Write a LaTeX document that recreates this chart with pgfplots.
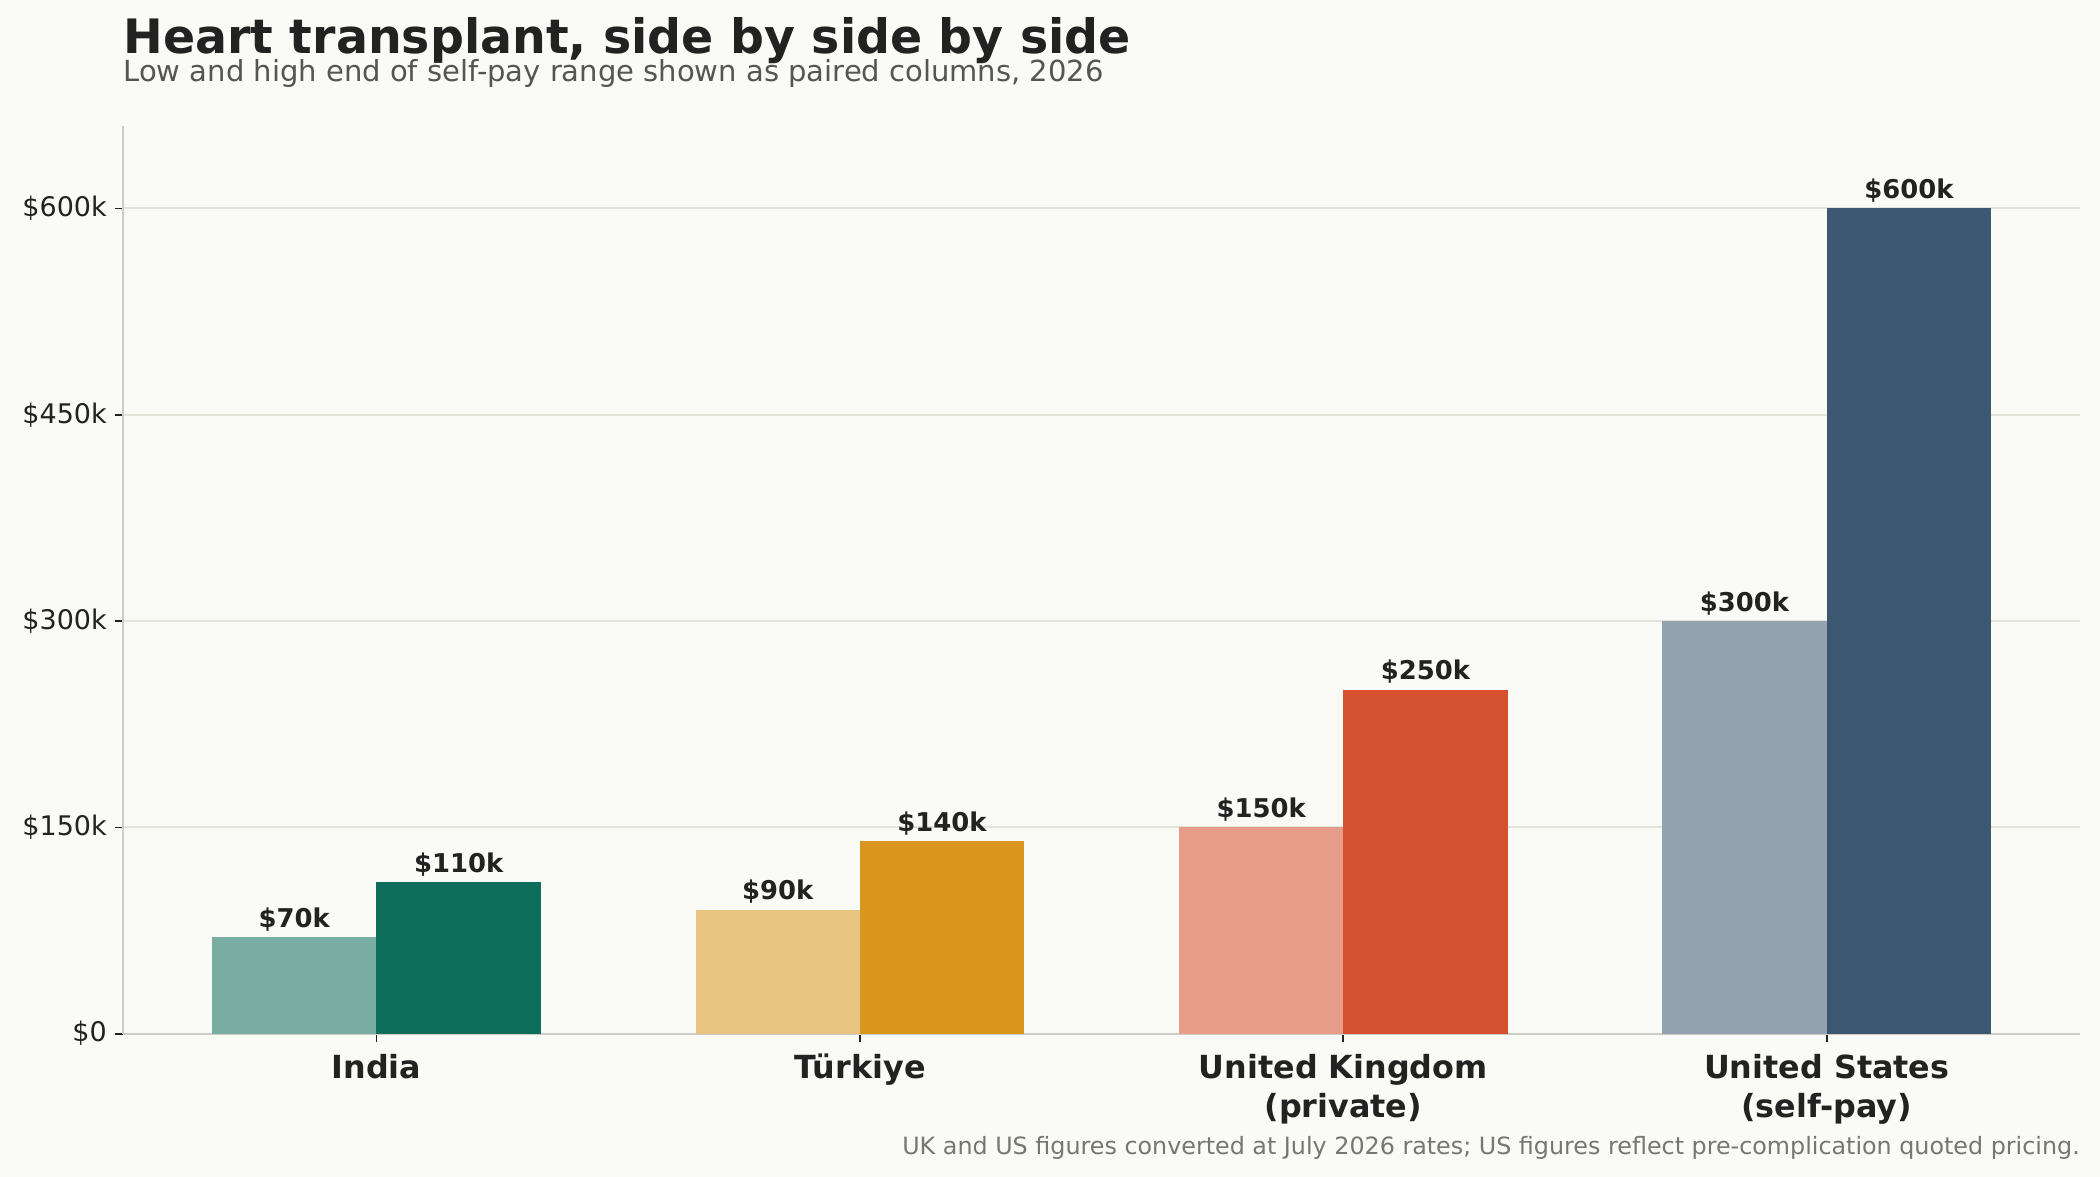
\documentclass[border=0pt]{standalone}
\usepackage{fontspec}
\setmainfont{DejaVu Sans}
\usepackage{pgfplots}
\pgfplotsset{compat=1.18}

\definecolor{bg}{HTML}{FAFAF6}
\definecolor{ink}{HTML}{222222}
\definecolor{subc}{HTML}{555555}
\definecolor{notec}{HTML}{777770}
\definecolor{gridc}{HTML}{E3E3DC}
\definecolor{spine}{HTML}{CCCCC4}
\definecolor{inLo}{HTML}{79ADA3}
\definecolor{inHi}{HTML}{0E6E5C}
\definecolor{trLo}{HTML}{E8C481}
\definecolor{trHi}{HTML}{D9961E}
\definecolor{ukLo}{HTML}{E59D89}
\definecolor{ukHi}{HTML}{D4502E}
\definecolor{usLo}{HTML}{93A2AF}
\definecolor{usHi}{HTML}{3B5870}

\begin{document}
\begin{tikzpicture}
\fill[bg] (-66.2bp,-77bp) rectangle (1062.7bp,555.7bp);

\begin{axis}[
    at={(0,0)}, anchor=south west,
    scale only axis,
    width=1052bp, height=488bp,
    xmin=-0.524, xmax=3.524,
    ymin=0, ymax=660,
    ybar, bar width=0.34,
    /pgf/number format/assume math mode=true,
    xtick={0,1,2,3},
    xticklabels={India, Türkiye, {United Kingdom\\(private)}, {United States\\(self-pay)}},
    xticklabel style={font=\fontsize{17.1bp}{21bp}\selectfont\bfseries, align=center,
        text=ink, yshift=-3bp},
    ytick={0,150,300,450,600},
    yticklabels={\$0,\$150k,\$300k,\$450k,\$600k},
    yticklabel style={font=\fontsize{14.5bp}{16bp}\selectfont, text=ink, xshift=-1bp},
    axis x line=bottom, axis y line=left,
    axis line style={draw=spine, line width=1.1bp, -},
    tick align=outside, major tick length=4.3bp,
    tick style={draw=ink, line width=0.9bp},
    ymajorgrids, grid style={draw=gridc, line width=1.1bp},
    nodes near coords={\$\pgfmathprintnumber{\pgfplotspointmeta}k},
    every node near coord/.append style={font=\fontsize{13.9bp}{15bp}\selectfont\bfseries,
        text=ink, inner sep=0pt, anchor=base, yshift=5.4bp},
]
% India
\addplot[fill=inLo, draw=none, bar shift=-0.17] coordinates {(0,70)};
\addplot[fill=inHi, draw=none, bar shift=0.17] coordinates {(0,110)};
% Turkiye
\addplot[fill=trLo, draw=none, bar shift=-0.17] coordinates {(1,90)};
\addplot[fill=trHi, draw=none, bar shift=0.17] coordinates {(1,140)};
% United Kingdom
\addplot[fill=ukLo, draw=none, bar shift=-0.17] coordinates {(2,150)};
\addplot[fill=ukHi, draw=none, bar shift=0.17] coordinates {(2,250)};
% United States
\addplot[fill=usLo, draw=none, bar shift=-0.17] coordinates {(3,300)};
\addplot[fill=usHi, draw=none, bar shift=0.17] coordinates {(3,600)};
\end{axis}

\node[anchor=base west, inner sep=0pt, text=ink,
      font=\fontsize{25.5bp}{29bp}\selectfont\bfseries] at (0,527bp)
      {Heart transplant, side by side by side};
\node[anchor=base west, inner sep=0pt, text=subc,
      font=\fontsize{15.6bp}{18bp}\selectfont] at (0,512bp)
      {Low and high end of self-pay range shown as paired columns, 2026};
\node[anchor=base east, inner sep=0pt, text=notec,
      font=\fontsize{12.8bp}{15bp}\selectfont] at (1052bp,-64.8bp)
      {UK and US figures converted at July 2026 rates; US figures reflect pre-complication quoted pricing.};
\end{tikzpicture}
\end{document}
